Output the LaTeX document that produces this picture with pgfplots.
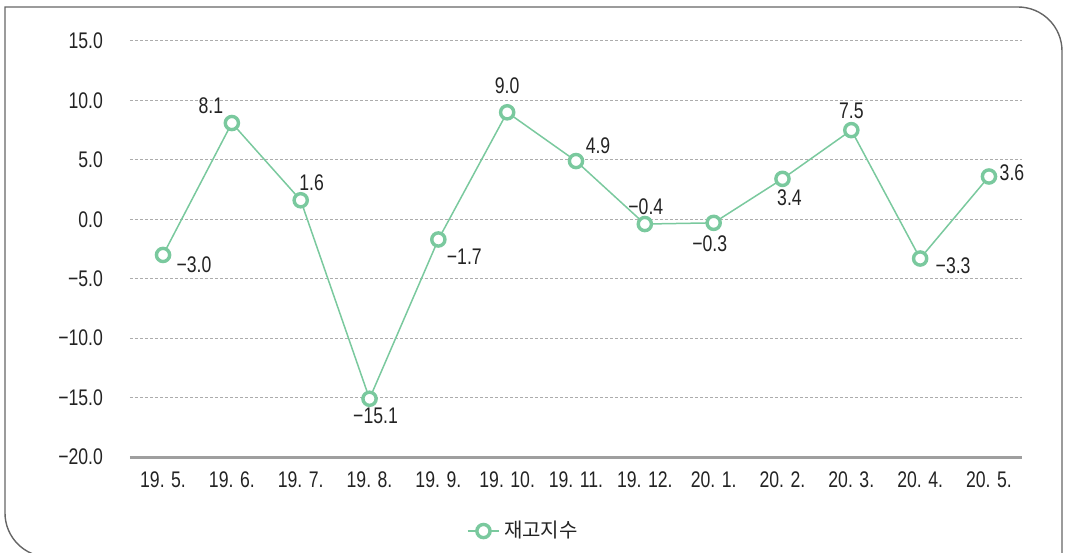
\documentclass[border=0pt]{standalone}
\usepackage{fontspec}
\setmainfont{Liberation Sans}[FakeStretch=0.78]
\newfontfamily\kr{Noto Sans CJK KR}
\usepackage{pgfplots}
\pgfplotsset{compat=1.18}
\definecolor{lgreen}{RGB}{122,201,158}
\definecolor{txt}{RGB}{35,35,35}
\begin{document}
\begin{tikzpicture}
\useasboundingbox (-65pt,-47.5pt) rectangle (467.5pt,228.5pt);
\draw[gray!80!black, line width=0.7pt] (40pt,-50pt) [rounded corners=22pt] -- (-62.5pt,-50pt) [sharp corners] -- (-62.5pt,225pt) [rounded corners=22pt] -- (466pt,225pt) -- (466pt,-60pt);
\begin{axis}[
  at={(0pt,0pt)}, anchor=south west,
  scale only axis, width=446pt, height=208pt,
  xmin=-0.48, xmax=12.48, ymin=-20, ymax=15,
  axis x line*=bottom, axis y line*=left,
  y axis line style={draw=none},
  x axis line style={draw=gray!75, line width=1.5pt},
  major tick length=0pt,
  ytick={-20,-15,-10,-5,0,5,10,15},
  yticklabels={−20.0,−15.0,−10.0,−5.0,0.0,5.0,10.0,15.0},
  xtick={0,...,12},
  xticklabels={19. 5.,19. 6.,19. 7.,19. 8.,19. 9.,19. 10.,19. 11.,19. 12.,20. 1.,20. 2.,20. 3.,20. 4.,20. 5.},
  tick label style={font=\fontsize{11.3pt}{13pt}\selectfont, text=txt},
  yticklabel style={xshift=-10pt},
  xticklabel style={yshift=-4pt},
  ymajorgrids,
  grid style={draw=gray!65, line width=0.5pt, dash pattern=on 1.5pt off 1pt},
  legend style={at={(0.442,-0.178)}, anchor=center, draw=none, fill=none, font=\kr\fontsize{10pt}{12pt}\selectfont, text=txt},
  legend image code/.code={
    \draw[#1, mark repeat=2, mark phase=2] plot coordinates {(0cm,0cm) (0.28cm,0cm) (0.56cm,0cm)};
  },
  clip=false,
]
\addplot[lgreen, line width=0.75pt, mark=*, mark size=3.3pt,
  mark options={fill=white, draw=lgreen, line width=1.7pt}]
  coordinates {(0,-3.0) (1,8.1) (2,1.6) (3,-15.1) (4,-1.7) (5,9.0) (6,4.9) (7,-0.4) (8,-0.3) (9,3.4) (10,7.5) (11,-3.3) (12,3.6)};
\addlegendentry{재고지수}
\addplot[draw=none, mark=none, forget plot,
  point meta=explicit symbolic,
  visualization depends on={value \thisrow{dx} \as \dx},
  visualization depends on={value \thisrow{dy} \as \dy},
  nodes near coords,
  nodes near coords style={anchor=center, xshift=\dx pt, yshift=\dy pt, font=\fontsize{11.3pt}{13pt}\selectfont, text=txt, inner sep=0pt},
] table[meta=label] {
x y dx dy label
0 -3.0 15.5 -5 {−3.0}
1 8.1 -10.5 8.5 {8.1}
2 1.6 5.5 9 {1.6}
3 -15.1 3 -8.5 {−15.1}
4 -1.7 13 -8.5 {−1.7}
5 9.0 0 13.5 {9.0}
6 4.9 11 7.5 {4.9}
7 -0.4 0.5 8.5 {−0.4}
8 -0.3 -2 -10.5 {−0.3}
9 3.4 3.5 -9.5 {3.4}
10 7.5 0 9.5 {7.5}
11 -3.3 16.5 -3.5 {−3.3}
12 3.6 11.5 2 {3.6}
};
\end{axis}
\end{tikzpicture}
\end{document}
